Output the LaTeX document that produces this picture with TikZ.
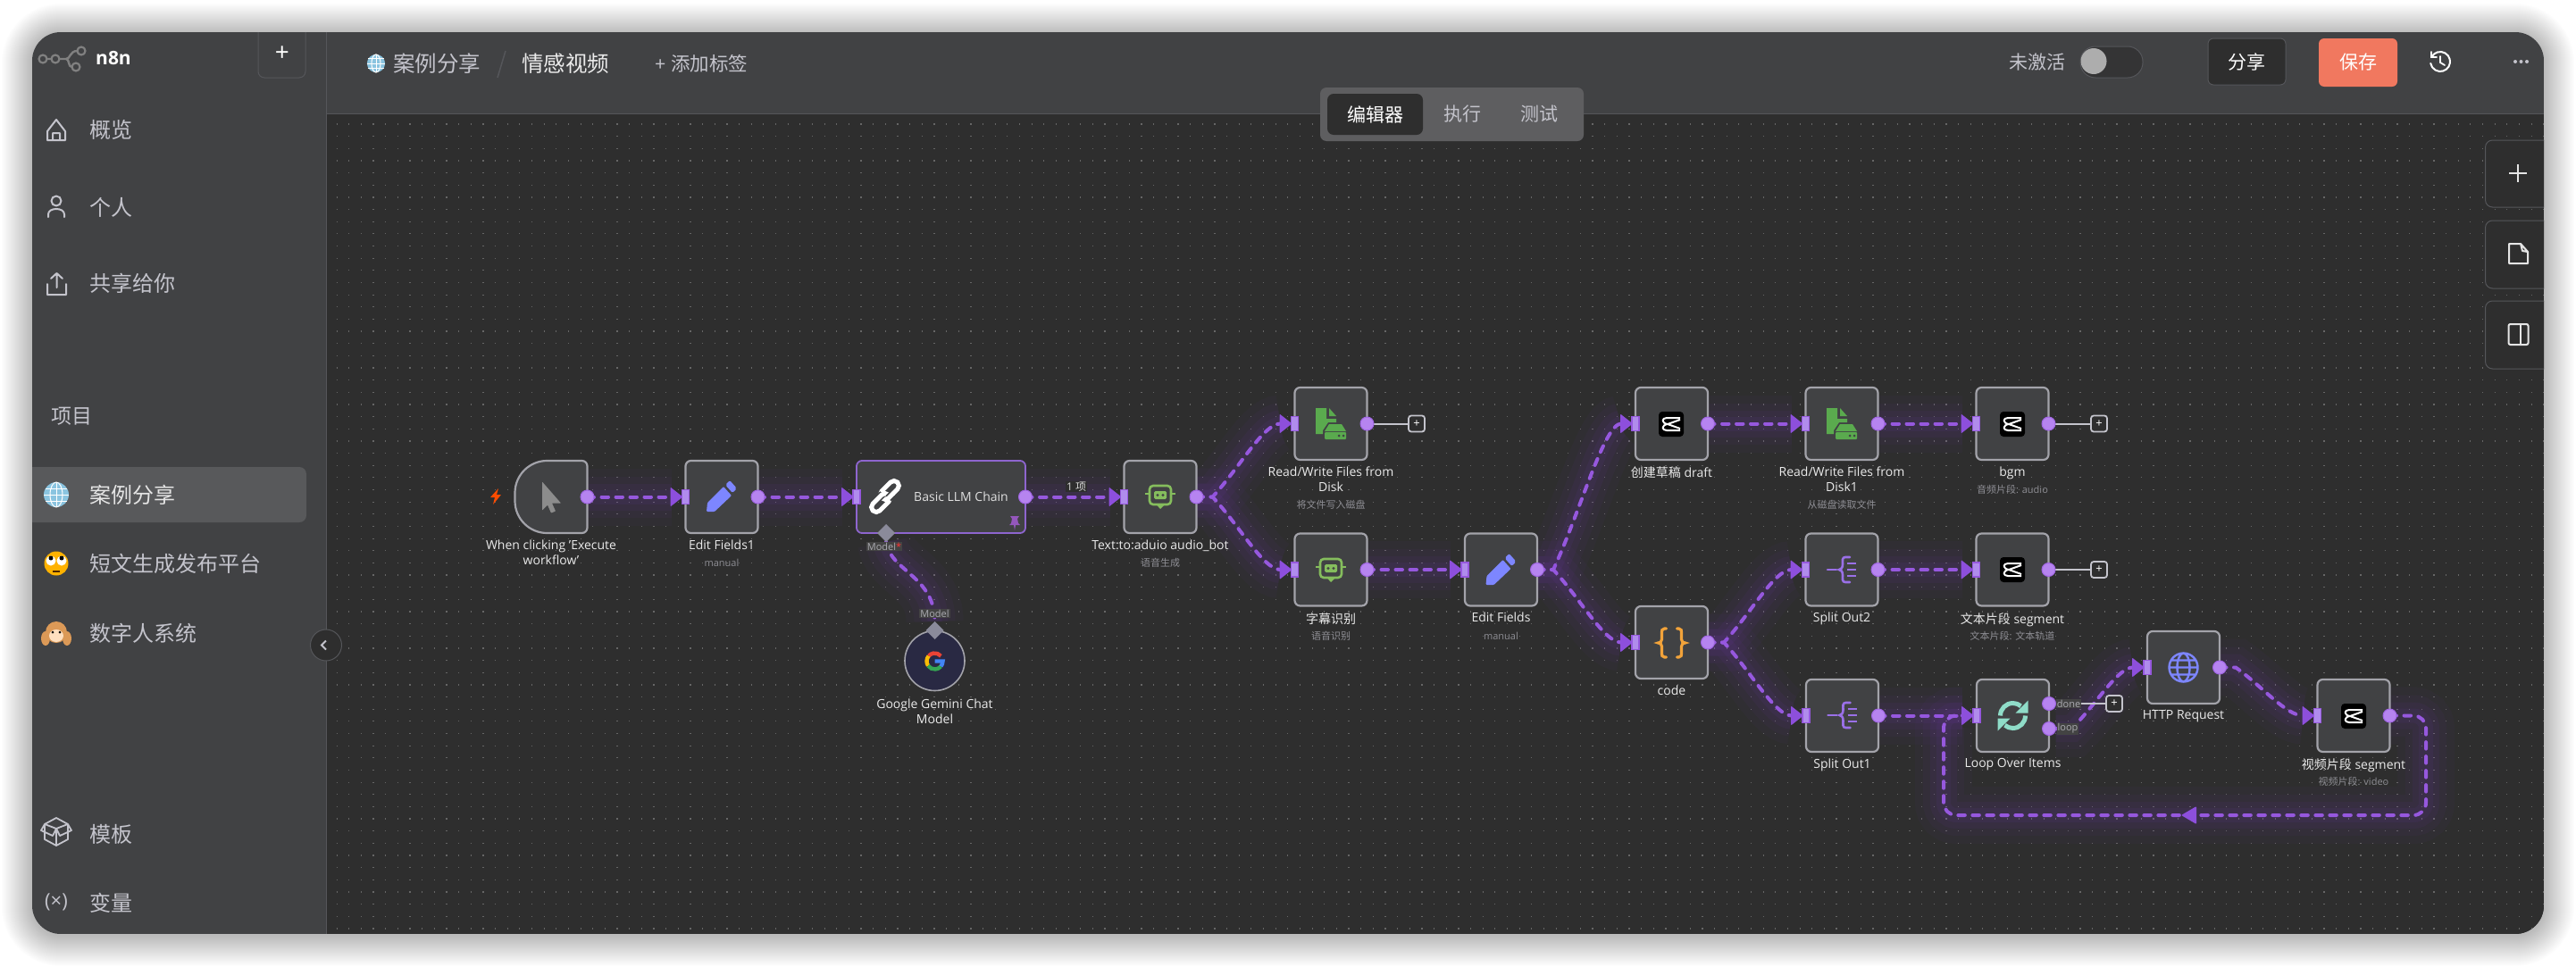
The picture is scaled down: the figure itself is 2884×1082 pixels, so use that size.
\documentclass[tikz,border=0pt]{standalone}
\usepackage{fontspec}
\setmainfont{Open Sans}
\newfontfamily\cjk{Noto Sans CJK SC}
\usetikzlibrary{calc,shapes.geometric}
\pgfdeclarelayer{bg}
\pgfdeclarelayer{wires}
\pgfsetlayers{bg,wires,main}
\definecolor{shell}{HTML}{414244}
\definecolor{canvas}{HTML}{2E2E2E}
\definecolor{edge}{HTML}{55565A}
\definecolor{nodeedge}{HTML}{A3A3AA}
\definecolor{wirec}{HTML}{9658DE}
\definecolor{glowc}{HTML}{8A3FE0}
\definecolor{tric}{HTML}{8D4FDC}
\definecolor{portc}{HTML}{B684F0}
\definecolor{barc}{HTML}{B08CEC}
\definecolor{subc}{HTML}{8E8E94}
\definecolor{tagc}{HTML}{ABABB1}
\definecolor{sidec}{HTML}{C4C4CC}
\definecolor{bluei}{HTML}{7D86FF}
\definecolor{greeni}{HTML}{5AAA4E}
\definecolor{boti}{HTML}{85BD5D}
\definecolor{spliti}{HTML}{9A70E8}
\definecolor{loopi}{HTML}{8FDCC8}
\definecolor{orangei}{HTML}{F2A33A}
\definecolor{savec}{HTML}{F1785F}
\definecolor{diamc}{HTML}{8A8A9A}
\definecolor{globec}{HTML}{8AC4E0}
\definecolor{gred}{HTML}{EA4335}
\definecolor{gyel}{HTML}{FBBC05}
\definecolor{ggrn}{HTML}{34A853}
\definecolor{gblu}{HTML}{4285F4}
\tikzset{
 wfnode/.style={draw=nodeedge,fill=shell,line width=2.2pt,rounded corners=6pt,minimum width=81pt,minimum height=81pt,inner sep=0pt,outer sep=0pt},
 lbl/.style={text=white!92!black,align=center,inner sep=0pt,font=\fontsize{14}{17}\selectfont},
 sublbl/.style={text=subc,inner sep=0pt,font=\fontsize{11}{13}\selectfont},
 wire/.style={draw=wirec,line width=4pt,line cap=round,dash pattern=on 7.5pt off 8.5pt,
   preaction={draw=glowc,solid,line width=64pt,draw opacity=.03},
   preaction={draw=glowc,solid,line width=46pt,draw opacity=.04},
   preaction={draw=glowc,solid,line width=30pt,draw opacity=.05},
   preaction={draw=glowc,solid,line width=16pt,draw opacity=.06}},
 stub/.style={draw=sidec,line width=2pt},
 plusbox/.style={draw=sidec,fill=canvas,line width=1.8pt,rounded corners=3pt,minimum size=18pt,inner sep=0pt,outer sep=0pt,text=white,font=\fontsize{13}{13}\selectfont},
 portnode/.style={circle,fill=portc,draw=wirec!70!portc,line width=1pt,minimum size=15pt,inner sep=0pt,outer sep=0pt},
 diam/.style={diamond,fill=diamc,minimum size=20pt,inner sep=0pt,outer sep=0pt},
 side/.style={text=sidec,anchor=west,inner sep=0pt,font=\cjk\fontsize{24}{24}\selectfont},
 sideicon/.style={draw=sidec,line width=2pt,line cap=round,line join=round},
 tinytag/.style={text=tagc,fill=canvas!90!white,inner sep=1pt,font=\fontsize{11}{12}\selectfont},
}
\newcommand{\wfbox}[3]{\node[wfnode] (#1) at (#2,#3) {};}
\newcommand{\inport}[1]{\begin{scope}[shift={(#1.west)}]
 \fill[tric,rounded corners=1pt] (-17,-11) -- (-3,0) -- (-17,11) -- cycle;
 \draw[fill=barc,draw=wirec,line width=1.2pt] (-4,-8) rectangle (4,8);
 \end{scope}}
\newcommand{\outport}[1]{\fill[portc,draw=wirec!70!portc,line width=1pt] (#1.east) circle (7.5pt);}
\newcommand{\straightwire}[2]{\path[wire] (#1.east) -- ($(#2.west)+(-16,0)$);}
\newcommand{\curvewire}[2]{\coordinate (S) at ($(#1.east)+(18,0)$);\coordinate (E) at ($(#2.west)+(-16,0)$);
 \path[wire] (#1.east) -- (S) .. controls ($(S)!.4!(E)$) and ($(E)!.25!(S |- E)$) .. (E);}
\newcommand{\iconbot}[2]{\begin{scope}[shift={(#1,#2)}]
 \draw[boti,line width=2.6pt,rounded corners=4pt] (-12,-12) rectangle (12,9);
 \draw[boti,line width=2.2pt] (-17,-3) -- (-12,-3) (12,-3) -- (17,-3);
 \fill[boti] (-4.5,9) -- (0,14) -- (5,9) -- cycle;
 \fill[boti,rounded corners=1.5pt] (-7,-6) rectangle (7,3);
 \fill[shell] (-3,-1.5) circle (1.6pt) (3,-1.5) circle (1.6pt);
 \end{scope}}
\newcommand{\icondisk}[2]{\begin{scope}[shift={(#1,#2)}]
 \fill[greeni] (-17,-17) -- (-5,-17) -- (-5,-5) -- (6,-5) -- (6,-1) -- (-3,-1) -- (-9,8) -- (-9,12) -- (-17,12) -- cycle;
 \fill[greeni] (-2,-17) -- (6,-8) -- (-2,-8) -- cycle;
 \fill[greeni] (-2,1) -- (12,1) -- (17,9) -- (-7,9) -- cycle;
 \fill[greeni,rounded corners=1pt] (-7,10) rectangle (17,18);
 \fill[shell] (9,14) circle (1.5pt) (14,14) circle (1.5pt);
 \end{scope}}
\newcommand{\iconcut}[2]{\begin{scope}[shift={(#1,#2)}]
 \fill[black,rounded corners=4pt] (-14,-14) rectangle (14,14);
 \draw[white,line width=2pt,line join=round] (10,-7) -- (-5,-7) .. controls (-11,-7) and (-11,-1) .. (-4,0) -- (10,5)
   (10,7) -- (-5,7) .. controls (-11,7) and (-11,1) .. (-4,0) -- (10,-5);
 \end{scope}}
\newcommand{\iconsplit}[2]{\begin{scope}[shift={(#1,#2)}]
 \draw[spliti,line width=2.6pt,line cap=round] (-16,0) -- (-6,0);
 \draw[spliti,line width=2.6pt,line cap=round] (9,-14) -- (4,-14) .. controls (0,-14) and (1,-10) .. (1,-6) .. controls (1,-2) and (-1,0) .. (-3,0) .. controls (-1,0) and (1,2) .. (1,6) .. controls (1,10) and (0,14) .. (4,14) -- (9,14);
 \draw[spliti,line width=2.6pt] (6,-7) -- (16,-7) (6,0) -- (16,0) (6,7) -- (16,7);
 \end{scope}}
\newcommand{\iconpencil}[2]{\begin{scope}[shift={(#1,#2)}]
 \fill[bluei,rounded corners=1pt] (-17,17) -- (-16,7) -- (2,-11) -- (11,-1) -- (-8,17) -- cycle;
 \fill[bluei,rounded corners=2pt] (4,-13) -- (9,-18) -- (17,-9) -- (12,-4) -- cycle;
 \end{scope}}
\newcommand{\emojiglobe}[3]{\begin{scope}[shift={(#1,#2)},scale=#3]
 \fill[globec] (0,0) circle (14pt);
 \draw[white,line width=1pt] (-14,0) -- (14,0) (-12,-7) -- (12,-7) (-12,7) -- (12,7) (0,-14) -- (0,14);
 \draw[white,line width=1pt] (0,0) ellipse (7pt and 14pt);
 \end{scope}}
\begin{document}
\begin{tikzpicture}[x=1pt,y=-1pt]
\useasboundingbox (0,0) rectangle (2884,1082);
\begin{pgfonlayer}{bg}
\fill[white] (0,0) rectangle (2884,1082);
\foreach \i in {1,...,34}{
 \pgfmathsetmacro{\rr}{32+\i}
 \fill[black,opacity=.0075,rounded corners=\rr pt] (36-\i,38-\i) rectangle (2848+\i,1048+\i);
}
\begin{scope}
\clip[rounded corners=32pt] (36,36) rectangle (2848,1046);
\fill[shell] (36,36) rectangle (2848,1046);
\fill[canvas] (366,127) rectangle (2848,1046);
\draw[edge,line width=1.2pt] (365.5,36) -- (365.5,1046);
\draw[edge,line width=1.2pt] (366,127.5) -- (2848,127.5);
\foreach \r in {0,...,66}{
 \draw[white!40!black,line width=1.2pt,dash pattern=on 1.2pt off 12.45pt] (376.5,139+13.65*\r) -- (2848,139+13.65*\r);
}
\fill[shell!88!white,rounded corners=8pt] (20,523) rectangle (343,585);
\draw[edge,fill=canvas,line width=1pt,rounded corners=8pt] (2782.5,157) rectangle (2870,232);
\draw[edge,fill=canvas,line width=1pt,rounded corners=8pt] (2782.5,247) rectangle (2870,323);
\draw[edge,fill=canvas,line width=1pt,rounded corners=8pt] (2782.5,337) rectangle (2870,413);
\draw[edge,rounded corners=7pt,line width=1pt] (289,20) rectangle (342,87);
\end{scope}
\end{pgfonlayer}

% ---- sidebar
\draw[white!50!black,line width=2.4pt] (52.5,66) -- (57.5,66) (66.5,66) -- (74,66) .. controls (79,66) and (78,57) .. (86.5,57) (74,66) .. controls (78,66) and (76,75) .. (80.5,75);
\draw[white!50!black,line width=2.2pt] (48,66) circle (4.5pt) (62,66) circle (4.5pt) (91,57) circle (4.5pt) (85,75) circle (4.5pt);
\node[text=white,inner sep=0pt,font=\bfseries\fontsize{21}{21}\selectfont] (brand) at (127,65) {n8n};
\node[text=white,inner sep=0pt,font=\fontsize{28}{28}\selectfont] (addbtn) at (316,60) {+};
\draw[sideicon] (53,147) -- (63,134) -- (73,147) -- (73,157) -- (53,157) -- cycle (59,157) -- (59,149) -- (67,149) -- (67,157);
\node[side] (s1) at (100,145) {概览};
\draw[sideicon] (63,225) circle (5.5pt) (54,243) -- (54,240) .. controls (54,232) and (72,232) .. (72,240) -- (72,243);
\node[side] (s2) at (100,232) {个人};
\draw[sideicon] (53,318) -- (53,330) -- (74,330) -- (74,318) (63.5,322) -- (63.5,306) (57,312) -- (63.5,306) -- (70,312);
\node[side] (s3) at (100,317) {共享给你};
\node[side,font=\cjk\fontsize{23}{23}\selectfont] (s4) at (57,466) {项目};
\emojiglobe{63}{554}{1}
\node[side,text=white!90!black] (s5) at (100,554) {案例分享};
\fill[orange!60!yellow] (63,631) circle (13.5pt);
\fill[white] (57,628) circle (5.5pt) (69,628) circle (5.5pt);
\fill[black] (57,625) circle (2.5pt) (69,625) circle (2.5pt);
\draw[black!70!orange,line width=1.2pt] (59,640) -- (67,640);
\node[side] (s6) at (100,631) {短文生成发布平台};
\fill[brown!70!orange!80!white] (63,708) circle (12pt);
\fill[brown!70!orange!80!white] (51,715) ellipse (5pt and 8pt) (75,715) ellipse (5pt and 8pt);
\fill[orange!25!white] (63,712) ellipse (8pt and 7pt);
\fill[black] (59,708) circle (1.5pt) (67,708) circle (1.5pt);
\node[side] (s7) at (100,709) {数字人系统};
\draw[sideicon,line width=1.8pt] (63,928) -- (50,923) -- (63,916) -- (76,923) -- cycle (50,923) -- (50,940) -- (63,947) -- (76,940) -- (76,923) (63,928) -- (63,947) (50,923) -- (46,930) -- (59,936) -- (63,928) -- (67,936) -- (80,930) -- (76,923);
\node[side] (s8) at (100,934) {模板};
\node[text=sidec,inner sep=0pt,font=\fontsize{22}{22}\selectfont] (varicon) at (63,1010) {(×)};
\node[side] (s9) at (100,1011) {变量};
\node[circle,draw=edge,fill=canvas,line width=1pt,minimum size=35pt,inner sep=0pt] (collapse) at (365,722.5) {};
\draw[sidec,line width=1.8pt] (365,717.5) -- (360,722.5) -- (365,727.5);

% ---- header
\emojiglobe{421}{71}{.72}
\node[text=sidec,anchor=west,inner sep=0pt,font=\cjk\fontsize{24.5}{24.5}\selectfont] (crumb) at (440,71) {案例分享};
\draw[edge,line width=1.5pt] (566,57) -- (557,87);
\node[text=white!92!black,anchor=west,inner sep=0pt,font=\cjk\fontsize{24.5}{24.5}\selectfont] (wfname) at (584,71) {情感视频};
\node[text=sidec,anchor=west,inner sep=0pt,font=\fontsize{21.5}{21.5}\selectfont] (addtag) at (733,71) {+ {\cjk 添加标签}};
\node[fill=shell!85!white,rounded corners=7pt,minimum width=295pt,minimum height=60pt,inner sep=0pt] (tabbar) at (1625.5,128) {};
\node[fill=canvas,rounded corners=7pt,minimum width=107pt,minimum height=46pt,inner sep=0pt,text=white,font=\cjk\fontsize{21}{21}\selectfont] (tab1) at (1539.5,128) {编辑器};
\node[inner sep=0pt,text=sidec,font=\cjk\fontsize{21}{21}\selectfont] (tab2) at (1637,128) {执行};
\node[inner sep=0pt,text=sidec,font=\cjk\fontsize{21}{21}\selectfont] (tab3) at (1723,128) {测试};
\node[inner sep=0pt,text=sidec,font=\cjk\fontsize{21}{21}\selectfont] (state) at (2280.5,70) {未激活};
\node[draw=edge,fill=canvas!70!shell,rounded corners=17pt,line width=1pt,minimum width=70pt,minimum height=35pt,inner sep=0pt] (toggle) at (2364,69.5) {};
\fill[white!68!black] (2344,68.5) circle (14.5pt);
\node[draw=edge,fill=canvas,rounded corners=6pt,line width=1pt,minimum width=87pt,minimum height=52pt,inner sep=0pt,text=white,font=\cjk\fontsize{21}{21}\selectfont] (sharebtn) at (2515.5,69) {分享};
\node[fill=savec,rounded corners=6pt,minimum width=88pt,minimum height=54pt,inner sep=0pt,text=white,font=\cjk\fontsize{21}{21}\selectfont] (savebtn) at (2640,70) {保存};
\draw[white,line width=2pt,line cap=round] (2722.5,63.5) arc (-150:170:11);
\draw[white,line width=1.8pt,line cap=round] (2722,58) -- (2722,64) -- (2728,64) (2732,63) -- (2732,70) -- (2737,73);
\fill[sidec] (2816,69) circle (2pt) (2822.5,69) circle (2pt) (2829,69) circle (2pt);
\draw[white!90!black,line width=2pt] (2809,194) -- (2829,194) (2819,184) -- (2819,204);
\draw[white!90!black,line width=2pt,line join=round] (2809,273) -- (2822,273) -- (2830,282) -- (2830,295) -- (2809,295) -- cycle (2822,273) -- (2824,281) -- (2830,282);
\draw[white!90!black,line width=2pt,rounded corners=2pt] (2808.5,363) rectangle (2830.5,386);
\draw[white!90!black,line width=2pt] (2822,363) -- (2822,386);

% ---- workflow nodes
\node[minimum width=81pt,minimum height=81pt,inner sep=0pt,outer sep=0pt] (trig) at (617,556.5) {};
\begin{scope}[shift={(trig.center)}]
\draw[draw=nodeedge,fill=shell,line width=2.2pt] (-4.5,-40.5) -- (34.5,-40.5) arc (-90:0:6) -- (40.5,34.5) arc (0:90:6) -- (-4.5,40.5) arc (90:180:36) -- (-40.5,-4.5) arc (180:270:36) -- cycle;
\fill[white!55!black,rounded corners=.6pt] (-10,-17) -- (11,7) -- (1,7) -- (5,16) -- (0,18) -- (-4,9) -- (-10,15) -- cycle;
\end{scope}
\fill[orange!60!red,rounded corners=.4pt] (558,547) -- (549,557) -- (554,557) -- (552,565) -- (561,554) -- (556,554) -- cycle;
\wfbox{ef1}{808}{556.5}
\iconpencil{808}{556}
\node[draw=bluei!75!purple,fill=shell,line width=1.8pt,rounded corners=6pt,minimum width=189pt,minimum height=81pt,inner sep=0pt,outer sep=0pt] (llm) at (1053.5,556.5) {};
\begin{scope}[shift={(991,556)},rotate=45]
\draw[white,line width=5pt,rounded corners=5.5pt] (-4,-7) rectangle (21,4);
\draw[shell,line width=8pt] (-8,-4) -- (0,-4);
\draw[white,line width=5pt,rounded corners=5.5pt] (-21,-4) rectangle (4,7);
\draw[shell,line width=8.5pt] (1,4) -- (8,4);
\draw[white,line width=5pt] (0,4) -- (9,4);
\end{scope}
\node[inner sep=0pt,text=white!88!black,font=\fontsize{14}{14}\selectfont] (llmtext) at (1076,556) {Basic LLM Chain};
\fill[bluei!65!purple] (1131,578) -- (1141,578) -- (1139,581) -- (1140,586) -- (1142,588) -- (1137,588) -- (1136,594) -- (1135,588) -- (1130,588) -- (1132,586) -- (1133,581) -- cycle;
\wfbox{tts}{1299}{556.5}
\iconbot{1299}{556}
\wfbox{rw}{1490}{474.5}
\icondisk{1490}{474}
\wfbox{asr}{1490}{638}
\iconbot{1490}{638}
\wfbox{ef}{1680.5}{638}
\iconpencil{1680.5}{638}
\wfbox{draft}{1871.5}{474.5}
\iconcut{1871}{475}
\wfbox{rw1}{2062}{474.5}
\icondisk{2062}{474}
\wfbox{bgm}{2253}{474.5}
\iconcut{2253}{475}
\wfbox{code}{1871.5}{719.5}
\begin{scope}[shift={(1871.5,720)}]
\foreach \s in {1,-1}{
\draw[orangei,line width=3.2pt,line cap=round,xscale=\s] (-6,-16) -- (-8,-16) .. controls (-11,-16) and (-11,-14) .. (-11,-10) -- (-11,-4) .. controls (-11,-1) and (-13,0) .. (-15,0) .. controls (-13,0) and (-11,1) .. (-11,4) -- (-11,10) .. controls (-11,14) and (-11,16) .. (-8,16) -- (-6,16);
}
\end{scope}
\wfbox{so2}{2062}{638}
\iconsplit{2062}{638}
\wfbox{seg}{2253}{638}
\iconcut{2253}{638}
\wfbox{so1}{2062.5}{801.5}
\iconsplit{2062.5}{801}
\wfbox{loop}{2253.5}{801.5}
\begin{scope}[shift={(2253.5,801.5)}]
\foreach \a in {0,180}{
\begin{scope}[rotate=\a]
\draw[loopi,line width=5pt] (-14,0) arc (-180:-50:14);
\fill[loopi] (17,-17) -- (17,-3) -- (3,-3) -- cycle;
\end{scope}}
\end{scope}
\wfbox{http}{2444.5}{747.5}
\begin{scope}[shift={(2444.5,747.5)}]
\draw[bluei,line width=2.4pt] (0,0) circle (16pt) (0,0) ellipse (7pt and 16pt) (-16,0) -- (16,0) (-14,-8) -- (14,-8) (-14,8) -- (14,8);
\end{scope}
\wfbox{vid}{2635}{801.5}
\iconcut{2635}{802}

% Gemini
\node[circle,draw=nodeedge,fill=canvas!90!blue,line width=1.6pt,minimum size=67pt,inner sep=0pt,outer sep=0pt] (gem) at (1046.5,740) {};
\begin{scope}[shift={(1046.5,740.5)},line width=4.4pt]
\draw[gred] (-40:9) arc (-40:-140:9);
\draw[gyel] (-140:9) arc (-140:-215:9);
\draw[ggrn] (-215:9) arc (-215:-320:9);
\draw[gblu] (40:9) arc (40:0:9) -- (0,0);
\end{scope}
\node[diam] (dm1) at (992,597) {};
\node[diam] (dm2) at (1046.5,706) {};

% plus
\node[plusbox] (pl1) at (1586,474.5) {+};
\node[plusbox] (pl2) at (2350,474.5) {+};
\node[plusbox] (pl3) at (2350,638) {+};
\node[plusbox] (pl4) at (2367,788) {+};
\node[portnode] (pdone) at (2294,788) {};
\node[portnode] (ploop) at (2294,816) {};

% ---- wires
\begin{pgfonlayer}{wires}
\straightwire{trig}{ef1}
\straightwire{ef1}{llm}
\straightwire{llm}{tts}
\curvewire{tts}{rw}
\curvewire{tts}{asr}
\straightwire{asr}{ef}
\curvewire{ef}{draft}
\curvewire{ef}{code}
\straightwire{draft}{rw1}
\straightwire{rw1}{bgm}
\curvewire{code}{so2}
\curvewire{code}{so1}
\straightwire{so2}{seg}
\straightwire{so1}{loop}
\curvewire{ploop}{http}
\curvewire{http}{vid}
\path[wire,rounded corners=14pt] (vid.east) -- (2716,801.5) -- (2716,913) -- (2176,913) -- (2176,801.5) -- ($(loop.west)+(-16,0)$);
\path[wire] (dm1.south) .. controls (997,640) and (1046.5,645) .. (dm2.north);
\draw[stub] (rw.east) -- (pl1.west);
\draw[stub] (bgm.east) -- (pl2.west);
\draw[stub] (seg.east) -- (pl3.west);
\draw[stub] (pdone.east) -- (pl4.west);
\end{pgfonlayer}
\foreach \n in {ef1,llm,tts,rw,asr,ef,draft,rw1,bgm,code,so2,seg,so1,loop,http,vid}{\inport{\n}}
\foreach \n in {trig,ef1,llm,tts,rw,asr,ef,draft,rw1,bgm,code,so2,seg,so1,http,vid}{\outport{\n}}
\fill[tric,rounded corners=1pt] (2459,903) -- (2442,913) -- (2459,923) -- cycle;

% ---- labels
\node[inner sep=1pt,fill=canvas,text=white!85!black,font=\fontsize{12}{12}\selectfont] (count) at (1205,545) {1 {\cjk 项}};
\node[tinytag] (mtag1) at (990,612) {Model\textcolor{red!80!white}{*}};
\node[tinytag] (mtag2) at (1046.5,687) {Model};
\node[tinytag] (tdone) at (2316,788) {done};
\node[tinytag] (tloop) at (2315,816) {loop};

\node[lbl,anchor=north] (l1) at (617,604.5) {When clicking 'Execute\\workflow'};
\node[lbl,anchor=north] (l2) at (808,604.5) {Edit Fields1};
\node[sublbl] (u2) at (808,630) {manual};
\node[lbl,anchor=north] (l3) at (1299,604.5) {Text:to:aduio audio\_bot};
\node[sublbl,font=\cjk\fontsize{11}{13}\selectfont] (u3) at (1299,630) {语音生成};
\node[lbl,anchor=north] (l4) at (1046.5,782.5) {Google Gemini Chat\\Model};
\node[lbl,anchor=north] (l5) at (1490,522.5) {Read/Write Files from\\Disk};
\node[sublbl,font=\cjk\fontsize{11}{13}\selectfont] (u5) at (1490,565) {将文件写入磁盘};
\node[lbl,anchor=north,font=\cjk\fontsize{14}{17}\selectfont] (l6) at (1490,686) {字幕识别};
\node[sublbl,font=\cjk\fontsize{11}{13}\selectfont] (u6) at (1490,712) {语音识别};
\node[lbl,anchor=north] (l7) at (1680.5,686) {Edit Fields};
\node[sublbl] (u7) at (1680.5,712) {manual};
\node[lbl,anchor=north] (l8) at (1871.5,522.5) {{\cjk 创建草稿} draft};
\node[lbl,anchor=north] (l9) at (2062,522.5) {Read/Write Files from\\Disk1};
\node[sublbl,font=\cjk\fontsize{11}{13}\selectfont] (u9) at (2062,565) {从磁盘读取文件};
\node[lbl,anchor=north] (l10) at (2253,522.5) {bgm};
\node[sublbl] (u10) at (2253,548) {{\cjk 音频片段}: audio};
\node[lbl,anchor=north] (l11) at (2062,686) {Split Out2};
\node[lbl,anchor=north] (l12) at (2253,686) {{\cjk 文本片段} segment};
\node[sublbl] (u12) at (2253,712) {{\cjk 文本片段}: {\cjk 文本轨道}};
\node[lbl,anchor=north] (l13) at (1871.5,767.5) {code};
\node[lbl,anchor=north] (l14) at (2062.5,849.5) {Split Out1};
\node[lbl,anchor=north] (l15) at (2253.5,849.5) {Loop Over Items};
\node[lbl,anchor=north] (l16) at (2444.5,795.5) {HTTP Request};
\node[lbl,anchor=north] (l17) at (2635,849.5) {{\cjk 视频片段} segment};
\node[sublbl] (u17) at (2635,875) {{\cjk 视频片段}: video};
\end{tikzpicture}
\end{document}
